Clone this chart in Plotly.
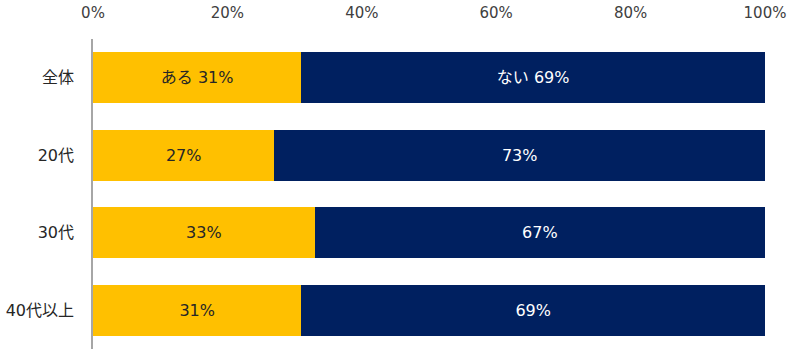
import plotly.graph_objects as go

categories = ["全体", "20代", "30代", "40代以上"]
aru = [31, 27, 33, 31]
nai = [69, 73, 67, 69]
aru_labels = ["ある 31%", "27%", "33%", "31%"]
nai_labels = ["ない 69%", "73%", "67%", "69%"]
tick_vals = [0, 20, 40, 60, 80, 100]
tick_text = ["0%", "20%", "40%", "60%", "80%", "100%"]

font_family = "DejaVu Sans, Noto Sans CJK JP, sans-serif"

fig = go.Figure()
fig.add_trace(go.Bar(
    y=categories, x=aru, orientation="h", name="ある",
    marker=dict(color="#FFC000", line=dict(width=0)),
    text=aru_labels, textposition="inside", insidetextanchor="middle",
    textfont=dict(color="#262626", size=16, family=font_family),
    hoverinfo="skip",
))
fig.add_trace(go.Bar(
    y=categories, x=nai, orientation="h", name="ない",
    marker=dict(color="#002060", line=dict(width=0)),
    text=nai_labels, textposition="inside", insidetextanchor="middle",
    textfont=dict(color="#FFFFFF", size=16, family=font_family),
    hoverinfo="skip",
))

fig.update_layout(
    width=792, height=353,
    margin=dict(l=93, r=27, t=39, b=4, autoexpand=False),
    barmode="stack", bargap=0.34,
    showlegend=False,
    plot_bgcolor="white", paper_bgcolor="white",
    font=dict(family=font_family, color="#404040", size=16),
    uniformtext=dict(mode=False),
)
fig.update_xaxes(
    side="top", range=[0, 100], tickvals=tick_vals, ticktext=tick_text,
    showgrid=False, zeroline=False, showline=False,
    tickfont=dict(size=15, color="#404040"), ticklabelstandoff=17,
    fixedrange=True, automargin=False,
)
fig.update_yaxes(
    categoryorder="array", categoryarray=categories[::-1],
    showgrid=False, zeroline=False, showline=True, linecolor="#A6A6A6", linewidth=1.5,
    ticks="", tickfont=dict(size=16, color="#262626"), ticklabelstandoff=14,
    fixedrange=True, automargin=False,
)

fig.write_html("out.html")
